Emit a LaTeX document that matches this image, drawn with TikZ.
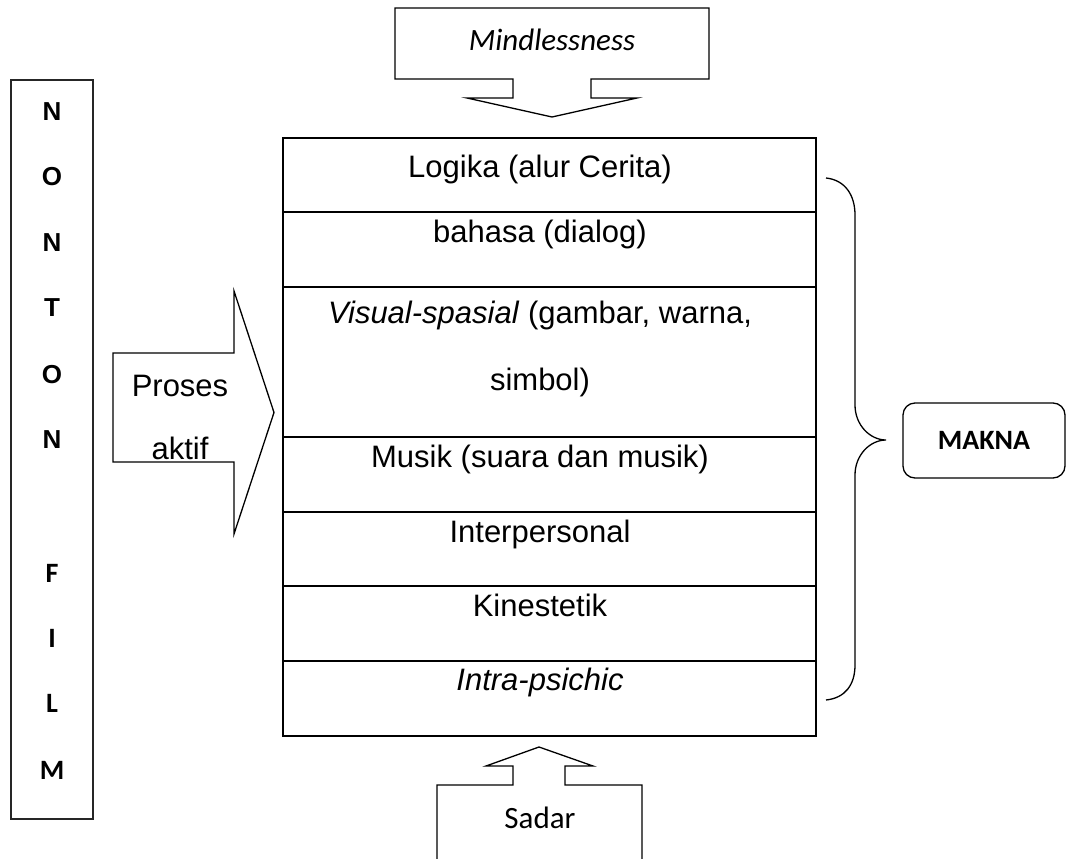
\documentclass[tikz,border=0pt]{standalone}
\usepackage{fontspec}
\setmainfont{Liberation Sans}
\newfontfamily\calibrifont{Carlito}
\begin{document}
\begin{tikzpicture}[x=1pt, y=-1pt,
                    line width=1.3pt,
                    line join=miter,
                    ]
    \tikzstyle{isi}=[inner sep=0pt, anchor=base, font=\fontsize{31}{37}\selectfont]
    \tikzstyle{huruf}=[inner sep=0pt, font=\fontsize{26}{30}\selectfont\bfseries]
    \tikzstyle{hurufc}=[inner sep=0pt, font=\fontsize{28}{30}\selectfont\calibrifont\bfseries]
    \tikzstyle{label}=[inner sep=0pt, font=\fontsize{31}{37}\selectfont\calibrifont]
    \tikzstyle{baris}=[line width=1.8pt]
    \tikzstyle{kotak}=[draw, rounded corners=12pt, minimum width=162pt, minimum height=75pt,
                       font=\fontsize{28}{30}\selectfont\calibrifont\bfseries]

    \useasboundingbox (0,0) rectangle (1066,859);

    \draw[line width=1.6pt, draw=black!85] (11,80) rectangle (93,819);
    \foreach \h/\y in {N/112, O/177, N/243, T/308, O/375, N/440}
        \node[huruf] (h\y) at (52,\y) {\h};
    \foreach \h/\y in {F/573, I/638, L/703, M/770}
        \node[hurufc] (h\y) at (52,\y) {\h};

    \draw (395,8) -- (709,8) -- (709,79) -- (591,79) -- (591,98) -- (637,98) -- (552,117)
        -- (467,98) -- (513,98) -- (513,79) -- (395,79) -- cycle;
    \node[label] (mindless) at (552,40) {\itshape Mindlessness};

    \draw[baris] (283,138) rectangle (816,736);
    \foreach \y in {212,287,437,512,586,661}
        \draw[baris] (283,\y) -- (816,\y);

    \node[isi] (logika) at (540,177) {Logika (alur Cerita)};
    \node[isi] (bahasa) at (540,242) {bahasa (dialog)};
    \node[isi] (visual) at (540,323) {\textit{Visual-spasial} (gambar, warna,};
    \node[isi] (simbol) at (540,390) {simbol)};
    \node[isi] (musik) at (540,467) {Musik (suara dan musik)};
    \node[isi] (inter) at (540,542) {Interpersonal};
    \node[isi] (kines) at (540,616) {Kinestetik};
    \node[isi] (intra) at (540,690) {\itshape Intra-psichic};

    \draw (113,353) -- (234,353) -- (234,291) -- (274,412.5) -- (234,534) -- (234,462)
        -- (113,462) -- cycle;
    \node[isi] (proses) at (180,396) {Proses};
    \node[isi] (aktif) at (180,459) {aktif};

    \draw (539,747) -- (593,766) -- (565,766) -- (565,785) -- (642,785) -- (642,875)
        -- (437,875) -- (437,785) -- (513,785) -- (513,766) -- (486,766) -- cycle;
    \node[label] (sadar) at (540,818) {Sadar};

    \draw (826,178) .. controls (845,180) and (855,195) .. (855,215) -- (855,405)
        .. controls (855,425) and (870,440) .. (886,440)
        .. controls (870,440) and (855,455) .. (855,475) -- (855,665)
        .. controls (855,685) and (845,698) .. (826,700);

    \node[kotak] (makna) at (984,440.5) {MAKNA};
\end{tikzpicture}
\end{document}
